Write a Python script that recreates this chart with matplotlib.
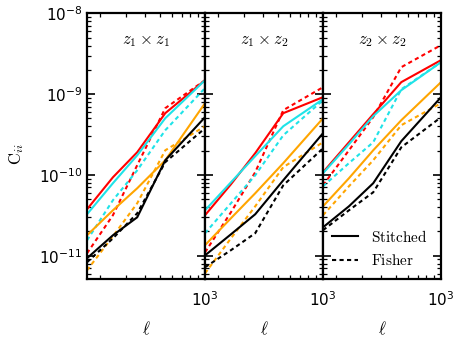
import matplotlib
matplotlib.use("Agg")
import matplotlib.pyplot as plt
from matplotlib.ticker import NullFormatter
from matplotlib.lines import Line2D

# multipole bins
ell = [165, 245, 355, 545, 1000]
xtick_vals = [1000]
ytick_vals = [1e-11, 1e-10, 1e-9, 1e-8]

panel_titles = [r"$z_1\times z_1$", r"$z_1\times z_2$", r"$z_2\times z_2$"]

# Panel 1: z1 x z1
p1_red_st = [3.76e-11, 9.35e-11, 1.91e-10, 5.82e-10, 1.49e-9]
p1_red_fi = [1.07e-11, 3.17e-11, 1.32e-10, 6.71e-10, 1.49e-9]
p1_cya_st = [3.26e-11, 7.9e-11, 1.75e-10, 5.04e-10, 1.49e-9]
p1_cya_fi = [1.55e-11, 4.86e-11, 1.14e-10, 3.58e-10, 1.19e-9]
p1_ora_st = [1.79e-11, 3.65e-11, 6.84e-11, 1.52e-10, 7.74e-10]
p1_ora_fi = [6.6e-12, 1.74e-11, 4.46e-11, 2.02e-10, 4.01e-10]
p1_blk_st = [9.3e-12, 1.79e-11, 2.99e-11, 1.52e-10, 5.19e-10]
p1_blk_fi = [8.3e-12, 1.64e-11, 3.35e-11, 1.44e-10, 3.79e-10]

# Panel 2: z1 x z2
p2_red_st = [3.17e-11, 7.66e-11, 1.86e-10, 5.82e-10, 9.19e-10]
p2_red_fi = [1.10e-11, 3.45e-11, 1.08e-10, 6.34e-10, 1.22e-9]
p2_cya_st = [3.65e-11, 8.1e-11, 1.71e-10, 4.01e-10, 8.67e-10]
p2_cya_fi = [1.90e-11, 4.46e-11, 9.9e-11, 3.10e-10, 8.43e-10]
p2_ora_st = [1.35e-11, 2.91e-11, 5.93e-11, 1.40e-10, 5.04e-10]
p2_ora_fi = [6.05e-12, 1.64e-11, 4.09e-11, 1.25e-10, 2.54e-10]
p2_blk_st = [1.01e-11, 1.84e-11, 3.26e-11, 8.6e-11, 3.29e-10]
p2_blk_fi = [7.2e-12, 1.17e-11, 1.90e-11, 7.45e-11, 2.14e-10]

# Panel 3: z2 x z2
p3_red_st = [1.08e-10, 2.54e-10, 5.65e-10, 1.41e-9, 2.64e-9]
p3_red_fi = [7.45e-11, 2.02e-10, 5.19e-10, 2.16e-9, 4.05e-9]
p3_cya_st = [1.05e-10, 2.40e-10, 5.34e-10, 1.12e-9, 2.49e-9]
p3_cya_fi = [7.24e-11, 1.40e-10, 2.54e-10, 1.15e-9, 2.49e-9]
p3_ora_st = [4.09e-11, 9.1e-11, 2.02e-10, 4.76e-10, 1.41e-9]
p3_ora_fi = [3.17e-11, 7.24e-11, 1.52e-10, 4.13e-10, 7.74e-10]
p3_blk_st = [2.25e-11, 4.09e-11, 7.9e-11, 2.62e-10, 9.19e-10]
p3_blk_fi = [2.07e-11, 3.65e-11, 6.10e-11, 2.20e-10, 5.19e-10]

panels = [
    [(p1_red_st, p1_red_fi), (p1_cya_st, p1_cya_fi), (p1_ora_st, p1_ora_fi), (p1_blk_st, p1_blk_fi)],
    [(p2_red_st, p2_red_fi), (p2_cya_st, p2_cya_fi), (p2_ora_st, p2_ora_fi), (p2_blk_st, p2_blk_fi)],
    [(p3_red_st, p3_red_fi), (p3_cya_st, p3_cya_fi), (p3_ora_st, p3_ora_fi), (p3_blk_st, p3_blk_fi)],
]
colors = ["#ff0000", "#1fe3e8", "#ffa500", "#000000"]

fig, axes = plt.subplots(1, 3, figsize=(4.58, 3.44), dpi=100, sharey=True)
fig.subplots_adjust(left=0.19, right=0.963, top=0.961, bottom=0.188, wspace=0)

dash = (0, (2.0, 1.6))
for i, ax in enumerate(axes):
    for (st, fi), c in zip(panels[i], colors):
        ax.plot(ell, st, color=c, lw=1.5, ls="-")
        ax.plot(ell, fi, color=c, lw=1.5, ls=dash)
    ax.set_xscale("log")
    ax.set_yscale("log")
    ax.set_xlim(165, 1000)
    ax.set_ylim(5.1e-12, 1e-8)
    ax.set_xticks(xtick_vals)
    ax.set_yticks(ytick_vals)
    ax.xaxis.set_minor_formatter(NullFormatter())
    ax.yaxis.set_minor_formatter(NullFormatter())
    ax.tick_params(which="both", direction="in", top=True, right=True, labelsize=11)
    ax.tick_params(axis="x", which="major", pad=8)
    ax.tick_params(which="major", length=6, width=1.2)
    ax.tick_params(which="minor", length=3, width=0.9)
    for s in ax.spines.values():
        s.set_linewidth(1.6)
    ax.text(0.5, 0.9, panel_titles[i], transform=ax.transAxes, ha="center",
            va="center", fontsize=12, math_fontfamily="cm")
    xl = ax.set_xlabel(r"$\ell$", fontsize=12, labelpad=8)
    xl.set_math_fontfamily("cm")
    if i > 0:
        ax.tick_params(which="both", labelleft=False)

axes[0].set_ylim(5.1e-12, 1e-8)
yl = axes[0].set_ylabel(r"$\mathrm{C}_{ii}$", fontsize=12)
yl.set_math_fontfamily("cm")
axes[0].yaxis.set_label_coords(-0.52, 0.47)

h = [Line2D([], [], color="k", lw=1.5, ls="-"), Line2D([], [], color="k", lw=1.5, ls=dash)]
leg = axes[2].legend(h, [r"$\mathrm{Stitched}$", r"$\mathrm{Fisher}$"], loc="lower right",
                     frameon=False, fontsize=11, handlelength=1.7, labelspacing=0.55,
                     bbox_to_anchor=(1.0, -0.01))
for t in leg.get_texts():
    t.set_math_fontfamily("cm")

fig.savefig("out.png", dpi=100)
